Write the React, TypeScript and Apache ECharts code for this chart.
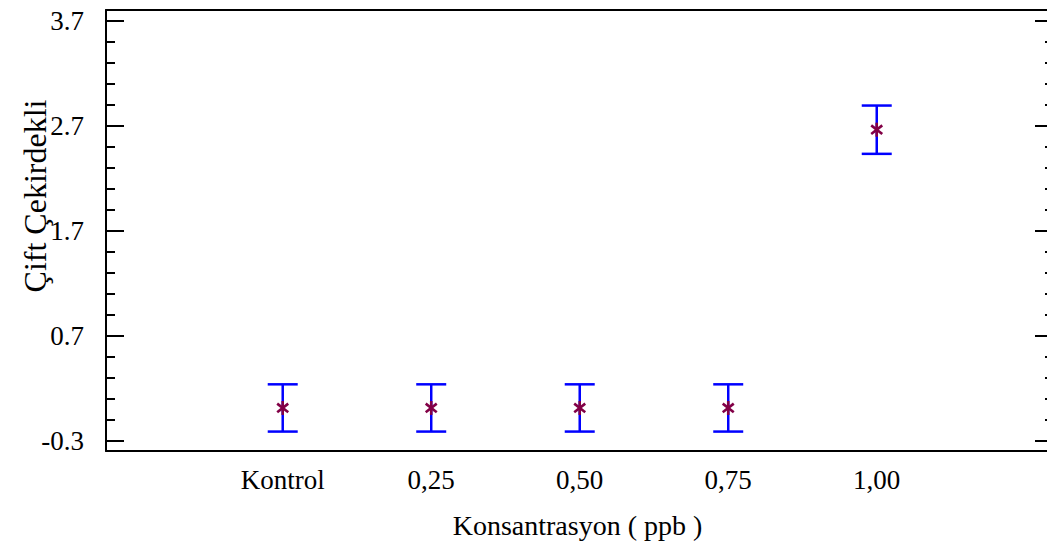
import React, { useEffect, useRef } from "react";
import * as echarts from "echarts";

const categories = ["Kontrol", "0,25", "0,50", "0,75", "1,00"];
const categoryPositions = [1, 2, 3, 4, 5];
const means = [0.01, 0.01, 0.01, 0.01, 2.66];
const errors = [0.225, 0.225, 0.225, 0.225, 0.23];
const majorTicks = [-0.3, 0.7, 1.7, 2.7, 3.7];
const minorTicks = [-0.1, 0.1, 0.3, 0.5, 0.9, 1.1, 1.3, 1.5, 1.9, 2.1, 2.3, 2.5, 2.9, 3.1, 3.3, 3.5];
const xTitle = "Konsantrasyon ( ppb )";
const yTitle = "Çift Çekirdekli";

const FONT = "'Liberation Serif', 'Times New Roman', serif";
const Y_MIN = -0.4;
const Y_MAX = 3.8;
const X_MIN = -0.19;
const X_MAX = 6.16;

export default function App() {
  const ref = useRef<HTMLDivElement>(null);
  useEffect(() => {
    if (!ref.current) return;
    const chart = echarts.init(ref.current, undefined, { renderer: "svg" });
    const data = categoryPositions.map((x, i) => [x, means[i], errors[i]]);
    const axisLineStyle = { color: "#000", width: 2 };
    const yBase = {
      type: "value",
      min: Y_MIN,
      max: Y_MAX,
      axisLine: { show: false, onZero: false },
      splitLine: { show: false },
    };
    chart.setOption({
      animation: false,
      backgroundColor: "#fff",
      grid: {
        left: 106,
        right: 11,
        top: 10,
        bottom: 91,
        show: false,
        outerBoundsMode: "none",
      },
      graphic: [
        {
          type: "text",
          x: 35,
          y: 196,
          rotation: Math.PI / 2,
          style: {
            text: yTitle,
            font: `32px ${FONT}`,
            fill: "#000",
            align: "center",
            verticalAlign: "middle",
          },
        },
      ],
      xAxis: [
        {
          type: "value",
          position: "bottom",
          min: X_MIN,
          max: X_MAX,
          axisLine: { show: true, onZero: false, lineStyle: axisLineStyle },
          axisTick: { show: false },
          splitLine: { show: false },
          axisLabel: {
            customValues: categoryPositions,
            formatter: (v: number) => categories[Math.round(v) - 1] ?? "",
            fontFamily: FONT,
            fontSize: 27,
            color: "#000",
            margin: 15,
          },
          name: xTitle,
          nameLocation: "middle",
          nameGap: 60,
          nameTextStyle: { fontFamily: FONT, fontSize: 28, color: "#000" },
        },
        {
          type: "value",
          position: "top",
          min: X_MIN,
          max: X_MAX,
          axisLine: { show: true, onZero: false, lineStyle: axisLineStyle },
          axisTick: { show: false },
          axisLabel: { show: false },
          splitLine: { show: false },
        },
      ],
      yAxis: [
        {
          ...yBase,
          position: "left",
          axisLine: { show: true, onZero: false, lineStyle: axisLineStyle },
          axisTick: {
            show: true,
            inside: true,
            length: 18,
            customValues: majorTicks,
            lineStyle: { color: "#000", width: 2 },
          },
          axisLabel: {
            customValues: majorTicks,
            formatter: (v: number) => v.toFixed(1),
            fontFamily: FONT,
            fontSize: 27,
            color: "#000",
            margin: 22,
          },
        },
        {
          ...yBase,
          position: "left",
          axisLabel: { show: false },
          axisTick: {
            show: true,
            inside: true,
            length: 9,
            customValues: minorTicks,
            lineStyle: { color: "#000", width: 2 },
          },
        },
        {
          ...yBase,
          position: "right",
          axisLabel: { show: false },
          axisTick: {
            show: true,
            inside: true,
            length: 14,
            customValues: majorTicks,
            lineStyle: { color: "#000", width: 2 },
          },
        },
        {
          ...yBase,
          position: "right",
          axisLabel: { show: false },
          axisTick: {
            show: true,
            inside: true,
            length: 4,
            customValues: minorTicks,
            lineStyle: { color: "#000", width: 2 },
          },
        },
      ],
      series: [
        {
          type: "custom",
          xAxisIndex: 0,
          yAxisIndex: 0,
          data,
          renderItem: (params: any, api: any) => {
            const x = api.value(0);
            const m = api.value(1);
            const e = api.value(2);
            const c = api.coord([x, m]);
            const t = api.coord([x, m + e]);
            const b = api.coord([x, m - e]);
            const cap = 15;
            const blue = { stroke: "#0000ff", lineWidth: 2.5 };
            const red = { stroke: "#820046", lineWidth: 2.6 };
            const r = 7;
            const ang = (38 * Math.PI) / 180;
            const dx = r * Math.cos(ang);
            const dy = r * Math.sin(ang);
            return {
              type: "group",
              children: [
                { type: "line", shape: { x1: t[0], y1: t[1], x2: b[0], y2: b[1] }, style: blue },
                { type: "line", shape: { x1: t[0] - cap, y1: t[1], x2: t[0] + cap, y2: t[1] }, style: blue },
                { type: "line", shape: { x1: b[0] - cap, y1: b[1], x2: b[0] + cap, y2: b[1] }, style: blue },
                { type: "line", shape: { x1: c[0], y1: c[1] - r, x2: c[0], y2: c[1] + r }, style: red },
                { type: "line", shape: { x1: c[0] - dx, y1: c[1] - dy, x2: c[0] + dx, y2: c[1] + dy }, style: red },
                { type: "line", shape: { x1: c[0] - dx, y1: c[1] + dy, x2: c[0] + dx, y2: c[1] - dy }, style: red },
              ],
            };
          },
        },
      ],
    });
    return () => chart.dispose();
  }, []);
  return (
    <div
      ref={ref}
      style={{ position: "fixed", left: 0, top: 0, width: 1060, height: 542, background: "#fff" }}
    />
  );
}
